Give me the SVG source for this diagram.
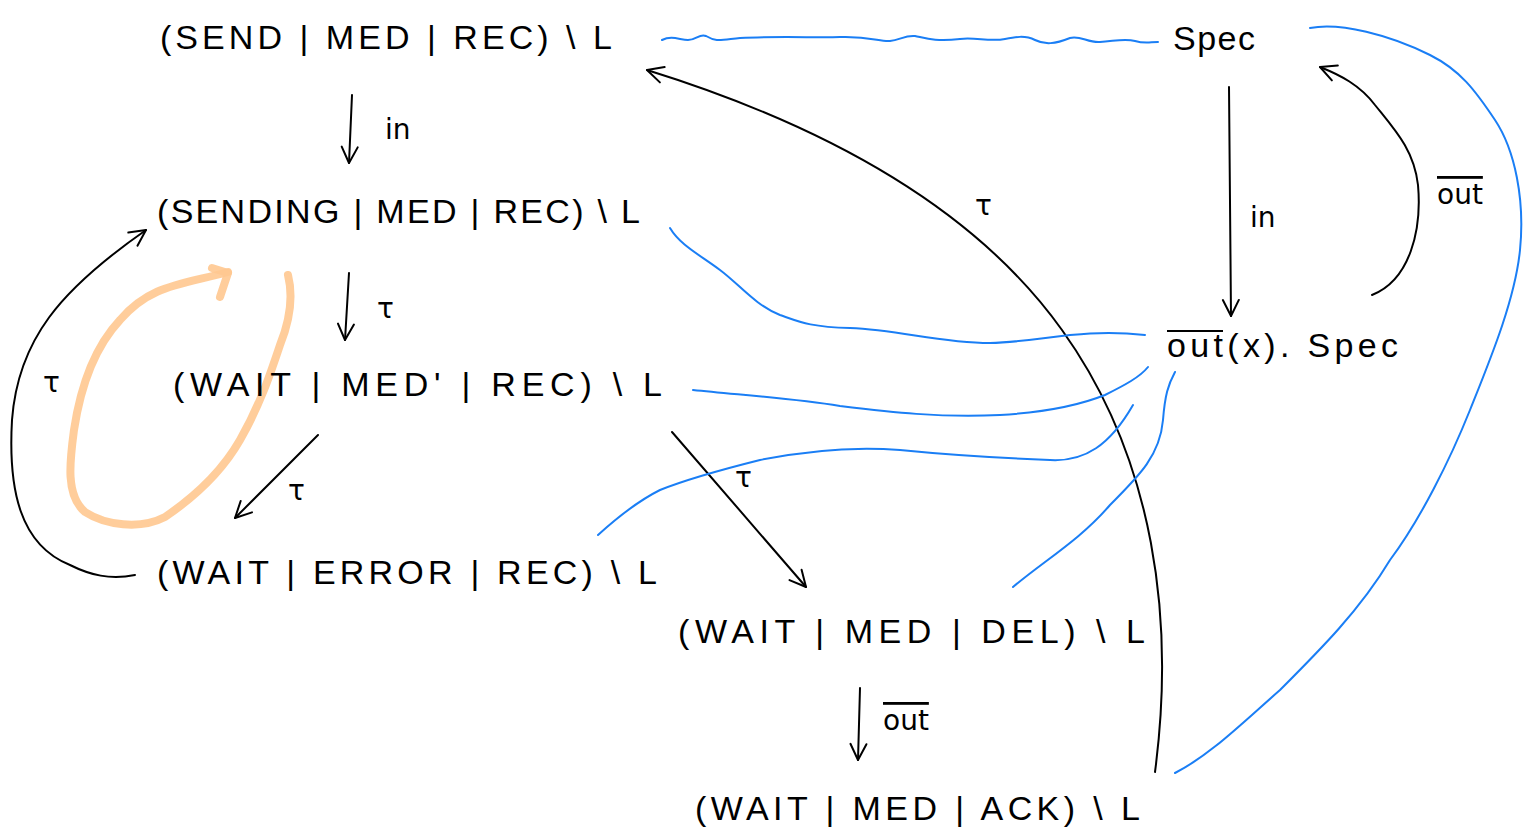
<svg xmlns="http://www.w3.org/2000/svg" width="1531" height="831" viewBox="0 0 1531 831">
<style>
.n{font-family:"Liberation Sans",Arial,sans-serif;font-size:34px;fill:#000;}
.l{font-family:"DejaVu Sans","Liberation Sans",sans-serif;font-size:28px;fill:#000;}
.a{fill:none;stroke:#000;stroke-width:2;stroke-linecap:round;stroke-linejoin:round;}
.b{fill:none;stroke:#1a7ef5;stroke-width:2;stroke-linecap:round;}
.o{fill:none;stroke:#ffc890;stroke-width:8;stroke-linecap:round;stroke-linejoin:round;opacity:0.9;}
</style>
<defs>
<marker id="ah" viewBox="0 0 20 20" refX="18" refY="10" markerWidth="20" markerHeight="20" markerUnits="userSpaceOnUse" orient="auto">
<path d="M2,2 L18,10 L2,18" fill="none" stroke="#000" stroke-width="2" stroke-linecap="round" stroke-linejoin="round"/>
</marker>
</defs>
<rect width="1531" height="831" fill="#fff"/>
<g id="connectors">
<path class="a" d="M352,95 L349,163" marker-end="url(#ah)"/>
<path class="a" d="M349,273 L345,340" marker-end="url(#ah)"/>
<path class="a" d="M318,435 L235,518" marker-end="url(#ah)"/>
<path class="a" d="M135,575 C110,580 90,575 70,565 C20,545 8,490 12,420 C18,340 60,290 146,230" marker-end="url(#ah)"/>
<path class="a" d="M672,432 L806,587" marker-end="url(#ah)"/>
<path class="a" d="M860,688 L858,760" marker-end="url(#ah)"/>
<path class="a" d="M1155,772 C1175,620 1155,460 1062,330 C980,215 840,130 647,70" marker-end="url(#ah)"/>
<path class="a" d="M1229,87 L1231,316" marker-end="url(#ah)"/>
<path class="a" d="M1372,295 C1410,280 1422,230 1418,185 C1414,150 1395,130 1375,105 C1360,85 1340,75 1320,67" marker-end="url(#ah)"/>
<path class="b" d="M662,40 C672,35 680,40 688,40 C696,40 700,33 706,36 C716,42 720,40 740,38 C780,36 820,38 840,37 C870,36 880,42 890,41 C900,40 905,35 915,36 C925,38 935,42 960,39 C975,37 990,42 1005,39 C1015,37 1025,35 1035,40 C1045,45 1055,44 1070,38 C1080,35 1088,43 1100,42 C1115,41 1125,38 1135,41 C1145,44 1150,42 1158,42"/>
<path class="b" d="M1310,28 C1340,22 1390,35 1430,55 C1460,70 1475,90 1495,120 C1515,150 1525,200 1520,250 C1515,300 1490,360 1470,410 C1450,460 1420,520 1390,560 C1360,610 1320,650 1280,690 C1240,725 1210,755 1175,773"/>
<path class="b" d="M670,228 C680,245 700,255 720,270 C740,285 755,305 780,315 C800,322 810,327 850,328 C900,330 940,343 990,343 C1040,342 1080,328 1145,335"/>
<path class="b" d="M693,390 C740,395 790,398 840,406 C890,412 940,418 1000,415 C1050,412 1080,405 1105,395 C1125,385 1140,377 1148,367"/>
<path class="b" d="M598,535 C620,515 640,500 660,490 C690,478 720,470 760,460 C800,452 850,446 900,450 C950,455 1000,458 1050,460 C1085,462 1110,445 1133,405"/>
<path class="b" d="M1013,587 C1045,560 1080,540 1110,505 C1140,475 1160,455 1163,420 C1165,395 1168,385 1175,372"/>
<path class="o" d="M288,275 C293,295 290,320 280,345 C270,375 260,405 240,440 C220,475 190,500 165,517 C140,530 105,525 85,512 C65,495 70,460 74,430 C80,390 92,350 120,320 C150,285 180,285 228,272"/>
<path class="o" d="M212,268 L228,273 L220,297"/>
</g>
<g id="node-send"><text class="n" x="160" y="49" textLength="452" lengthAdjust="spacing">(SEND | MED | REC) \ L</text></g>
<g id="node-sending"><text class="n" x="157" y="223" textLength="483" lengthAdjust="spacing">(SENDING | MED | REC) \ L</text></g>
<g id="node-wait-medp"><text class="n" x="173" y="396" textLength="489" lengthAdjust="spacing">(WAIT | MED' | REC) \ L</text></g>
<g id="node-wait-error"><text class="n" x="157" y="584" textLength="500" lengthAdjust="spacing">(WAIT | ERROR | REC) \ L</text></g>
<g id="node-wait-del"><text class="n" x="678" y="643" textLength="467" lengthAdjust="spacing">(WAIT | MED | DEL) \ L</text></g>
<g id="node-wait-ack"><text class="n" x="695" y="820" textLength="445" lengthAdjust="spacing">(WAIT | MED | ACK) \ L</text></g>
<g id="node-spec"><text class="n" x="1173" y="50" textLength="82" lengthAdjust="spacing">Spec</text></g>
<g id="node-outspec"><text class="n" x="1167" y="357" textLength="231" lengthAdjust="spacing">out(x). Spec</text><line x1="1167" y1="331" x2="1223" y2="331" stroke="#000" stroke-width="2"/></g>
<g id="labels">
<text class="l" x="385" y="139">in</text>
<text class="l" x="377" y="318">τ</text>
<text class="l" x="43" y="392">τ</text>
<text class="l" x="288" y="500">τ</text>
<text class="l" x="735" y="487">τ</text>
<text class="l" x="975" y="215">τ</text>
<text class="l" x="1250" y="227">in</text>
<text class="l" x="1437" y="204" text-decoration="overline">out</text>
<text class="l" x="883" y="730" text-decoration="overline">out</text>
</g>
</svg>
